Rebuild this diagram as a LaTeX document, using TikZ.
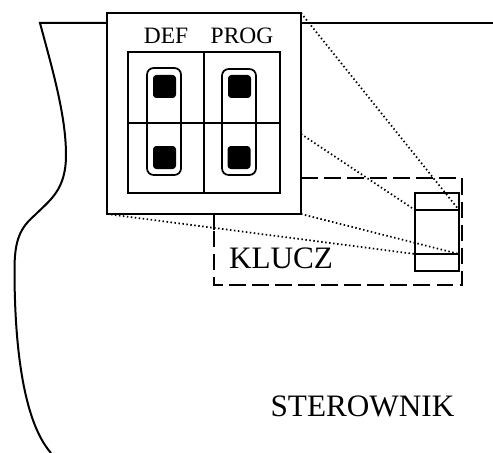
\documentclass[tikz,border=0pt]{standalone}
\usepackage{fontspec}
\setmainfont{Liberation Serif}
\usetikzlibrary{calc,positioning}
\tikzset{
  thickline/.style={line width=1.3pt},
  thinline/.style={line width=1.1pt},
  curveline/.style={line width=1.5pt},
  dotline/.style={line width=1.3pt,dash pattern=on 1.1pt off 1.9pt},
  dashline/.style={line width=1.3pt,dash pattern=on 12.5pt off 4.8pt},
  key/.style={fill=black,rounded corners=2.5pt},
  smalltext/.style={font=\fontsize{17.6}{20}\selectfont,inner sep=0pt},
  bigtext/.style={font=\fontsize{23.4}{26}\selectfont,inner sep=0pt}
}
\begin{document}
\begin{tikzpicture}[x=0.75pt,y=-0.75pt]
\useasboundingbox (0,0) rectangle (493,453);
\coordinate (A) at (107,13);
\coordinate (B) at (301,214);
\coordinate (C) at (301,13);
\coordinate (D) at (107,214);
\coordinate (E) at (301,134);
\coordinate (F) at (415,210);
\coordinate (G) at (459,210);
\coordinate (H) at (415,254);
\coordinate (I) at (459,254);
\coordinate (T) at (214,214);
\coordinate (U) at (214,230);
% body outline
\draw[thinline] (493,23)--(301,23);
\draw[curveline] (107,23)--(40,23)
  .. controls (52,68) and (66,115) .. (66,155)
  .. controls (66,190) and (50,200) .. (35,215)
  .. controls (20,228) and (14.5,240) .. (14.5,270)
  .. controls (14.5,340) and (22,420) .. (51,453);
% socket
\draw[thickline] (A) rectangle (B);
\draw[thickline] (128,52) rectangle (280,193);
\draw[thickline] (204,52)--(204,193);
\draw[thickline] (128,123)--(280,123);
\draw[thickline,rounded corners=5pt] (147,68) rectangle (181,175);
\draw[thickline,rounded corners=5pt] (222,69) rectangle (256,175);
\fill[key] (153,75) rectangle (176,98);
\fill[key] (153,146) rectangle (176,169);
\fill[key] (228,75) rectangle (251,98);
\fill[key] (227.5,146) rectangle (250.5,169);
% jumper
\draw[thickline] (T)--(U);
\draw[dashline] (301,178)--(462,178)--(462,285)--(214,285)--(U);
\draw[thickline] (415,193) rectangle (459,271);
\draw[thickline] (F)--(G);
\draw[thickline] (H)--(I);
% projection lines
\draw[dotline] (C)--(G);
\draw[dotline] (E)--(F);
\draw[dotline] (B)--(I);
\draw[dotline] (D)--(H);
\node[smalltext] (def) at (166,36) {DEF};
\node[smalltext] (prog) at (242,36) {PROG};
\node[bigtext] (klucz) at (281,258) {KLUCZ};
\node[bigtext] (sterownik) at (362.5,406) {STEROWNIK};
\end{tikzpicture}
\end{document}
